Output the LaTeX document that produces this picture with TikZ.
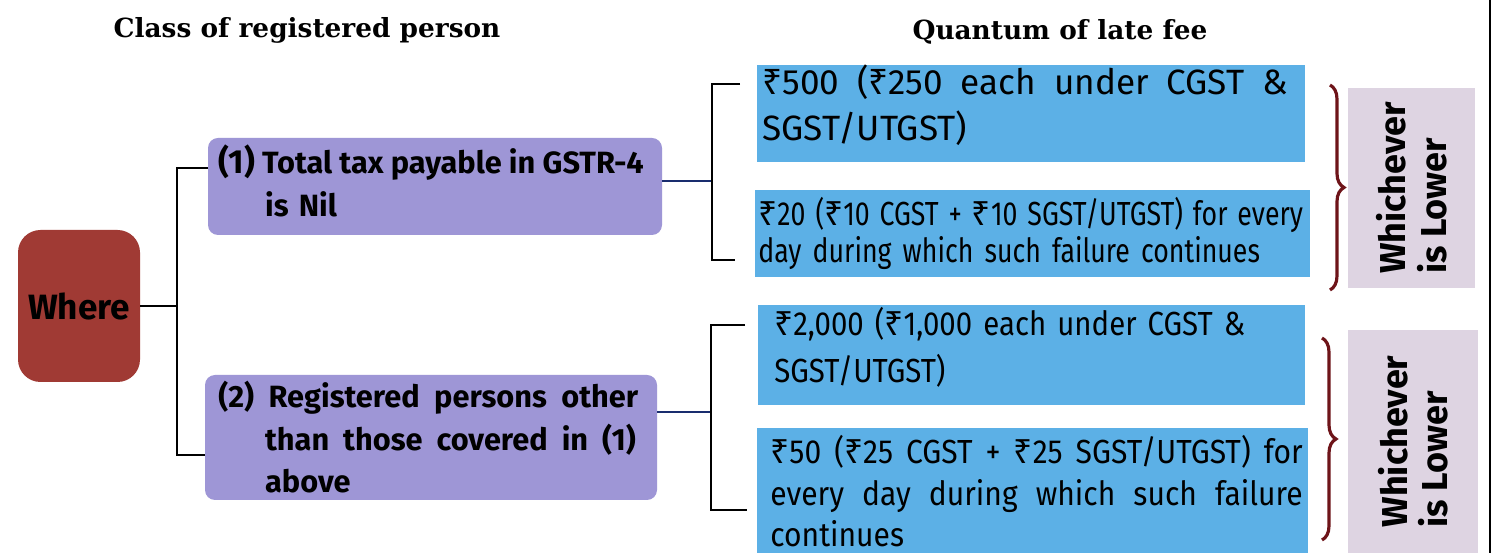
\documentclass[tikz,border=0pt]{standalone}
\usepackage{fontspec}
\setmainfont{Fira Sans}
\newfontfamily\rsfont{Noto Sans}
\newfontfamily\condfont[FakeStretch=0.8]{Fira Sans}
\newfontfamily\semicondfont[FakeStretch=0.88]{Fira Sans}
\newfontfamily\regfont[FakeStretch=0.9]{Fira Sans}
\newfontfamily\headfont{DejaVu Serif}
\newcommand\rs{{\rsfont ₹}}
\newcommand\jline[2]{\leavevmode\hbox to #1{\spaceskip=\fontdimen2\font plus 1fil\relax #2}}
\usetikzlibrary{decorations.pathreplacing}
\definecolor{lav}{RGB}{158,150,214}
\definecolor{skyb}{RGB}{92,176,230}
\definecolor{wred}{RGB}{160,58,52}
\definecolor{wpink}{RGB}{222,212,226}
\definecolor{brc}{RGB}{110,20,25}
\definecolor{navy}{RGB}{25,45,110}
\tikzset{
  sz/.style 2 args={minimum width=#1*0.02cm, minimum height=#2*0.02cm},
  base/.style={inner sep=0pt, outer sep=0pt, draw=none},
  lavbox/.style={base, fill=lav, rounded corners=0.2cm},
  bluebox/.style={base, fill=skyb},
  wherebox/.style={base, fill=wred, rounded corners=0.45cm},
  lowbox/.style={base, fill=wpink},
  conn/.style={draw=black, line width=1.2pt},
  navyconn/.style={draw=navy, line width=1.6pt},
  bracestyle/.style={draw=brc, line width=1.8pt, decorate, decoration={brace, amplitude=0.28cm}},
  txt/.style={inner sep=0pt, anchor=base west, align=left},
  head/.style={font=\headfont\bfseries\fontsize{15}{18}\selectfont, inner sep=0pt},
  lowtxt/.style={rotate=90, align=left, inner sep=0pt, font=\bfseries\fontsize{20.5}{23}\selectfont},
}
\begin{document}
\begin{tikzpicture}[x=0.02cm, y=-0.02cm]
\useasboundingbox (0,0) rectangle (1499,553);
\fill[white] (0,0) rectangle (1499,553);

% headers
\node[head] (h1) at (307,30) {Class of registered person};
\node[head] (h2) at (1060,32) {Quantum of late fee};

% boxes
\node[wherebox, sz={122}{152}] (where) at (79,306) {};
\node[lavbox, sz={454}{97}] (box1) at (435,186.5) {};
\node[lavbox, sz={452}{125}] (box2) at (431,437.5) {};
\node[bluebox, sz={548}{97}] (a1) at (1031,113.5) {};
\node[bluebox, sz={555}{87}] (a2) at (1032.5,233.5) {};
\node[bluebox, sz={547}{100}] (b1) at (1031.5,355) {};
\node[bluebox, sz={551}{125}] (b2) at (1032.5,490.5) {};
\node[lowbox, sz={127}{200}] (w1) at (1411.5,188) {};
\node[lowbox, sz={130}{223}] (w2) at (1413,441.5) {};

% texts
\node[font=\bfseries\fontsize{20}{24}\selectfont, inner sep=0pt] (wt) at (79,306) {Where};

\node[txt, text width=239pt, font=\bfseries\fontsize{17.5}{24}\selectfont] (t1) at (218,174)
  {\jline{239pt}{{\fontsize{19}{24}\selectfont(1)} Total tax payable in GSTR-4}\\\hspace*{26.6pt}is Nil};
\node[txt, text width=239pt, font=\bfseries\fontsize{17.5}{24}\selectfont] (t2) at (218,408)
  {\jline{239pt}{(2) Registered persons other}\\\hspace*{26.6pt}\jline{211pt}{than those covered in (1)}\\\hspace*{26.6pt}above};

\node[txt, text width=299pt, font=\fontsize{20}{26}\selectfont] (ta1) at (762,95)
  {\jline{299pt}{\rs500 (\rs250 each under CGST \&}\\SGST/UTGST)};
\node[txt, text width=310pt, font=\condfont\fontsize{19}{21}\selectfont] (ta2) at (758,226)
  {\jline{310pt}{\rs20 (\rs10 CGST + \rs10 SGST/UTGST) for every}\\day during which such failure continues};
\node[txt, text width=300pt, font=\semicondfont\fontsize{19}{26.6}\selectfont] (tb1) at (774,336)
  {\rs2,000 (\rs1,000 each under CGST \&\\SGST/UTGST)};
\node[txt, text width=303pt, font=\regfont\fontsize{19}{23.5}\selectfont] (tb2) at (770,464)
  {\jline{303pt}{\rs50 (\rs25 CGST + \rs25 SGST/UTGST) for}\\\jline{303pt}{every day during which such failure}\\continues};

\node[lowtxt] (wl1) at (w1.center) {Whichever\\is Lower};
\node[lowtxt] (wl2) at (w2.center) {Whichever\\is Lower};

% connectors left
\coordinate (j1) at (177,306);
\coordinate (t1c) at (177,168);
\coordinate (t2c) at (177,455);
\draw[conn] (where.east) -- (j1);
\draw[conn] (box1.west |- t1c) -- (t1c) -- (t2c) -- (box2.west |- t2c);

% connectors right upper
\coordinate (r1) at (712,84);
\coordinate (r2) at (712,260);
\coordinate (m1) at (712,181);
\draw[navyconn] (box1.east |- m1) -- (m1);
\draw[conn, shorten <=0.34cm, shorten >=0.4cm] (a1.west |- r1) -- (r1) -- (r2) -- (a2.west |- r2);

% connectors right lower
\coordinate (r3) at (711,325);
\coordinate (r4) at (711,510);
\coordinate (m2) at (711,412);
\draw[navyconn] (box2.east |- m2) -- (m2);
\draw[conn, shorten <=0.26cm, shorten >=0.2cm] (b1.west |- r3) -- (r3) -- (r4) -- (b2.west |- r4);

% braces
\coordinate (bra1) at (1330,85);
\coordinate (bra2) at (1330,290);
\coordinate (bra3) at (1322,338);
\coordinate (bra4) at (1322,540);
\draw[bracestyle] (bra1) -- (bra2);
\draw[bracestyle] (bra3) -- (bra4);

% page edge line
\coordinate (pe1) at (1490,0);
\coordinate (pe2) at (1490,553);
\draw[line width=1pt] (pe1) -- (pe2);
\end{tikzpicture}
\end{document}
